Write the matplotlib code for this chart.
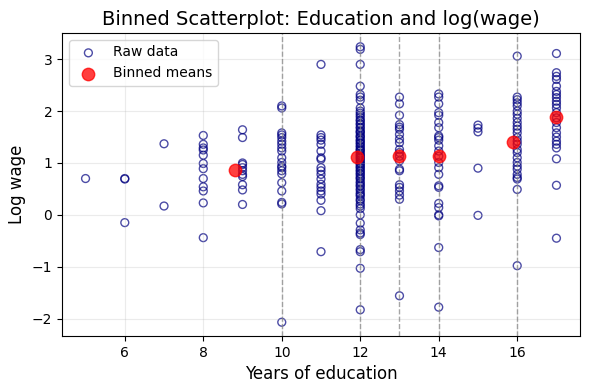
import matplotlib
matplotlib.use("Agg")
import matplotlib.pyplot as plt

# Raw data: years of education -> log wage values
educ_levels = [5, 6, 7, 8, 9, 10, 11, 12, 13, 14, 15, 16, 17]
wage_5 = [0.70]
wage_6 = [0.69, 0.70, -0.15]
wage_7 = [1.37, 0.17]
wage_8 = [1.53, 1.36, 1.29, 1.25, 1.15, 0.99, 0.89, 0.70, 0.54, 0.46, 0.23, -0.44]
wage_9 = [1.64, 1.49, 1.00, 0.97, 0.91, 0.85, 0.78, 0.74, 0.58, 0.48, 0.20]
wage_10 = [2.10, 2.06, 1.58, 1.54, 1.49, 1.42, 1.36, 1.29, 1.23, 1.10, 1.01, 0.94,
           0.91, 0.85, 0.79, 0.62, 0.46, 0.24, 0.21, -2.07]
wage_11 = [2.90, 1.54, 1.49, 1.44, 1.36, 1.23, 1.10, 1.07, 0.91, 0.85, 0.78, 0.69,
           0.59, 0.53, 0.46, 0.40, 0.28, 0.08, -0.71]
wage_12 = [3.24, 3.19, 2.90, 2.48, 2.32, 2.27, 2.21, 2.06, 2.00,
           1.96, 1.92, 1.88, 1.83, 1.81, 1.76, 1.74, 1.69, 1.67, 1.62, 1.60, 1.58,
           1.53, 1.51, 1.49, 1.44, 1.43, 1.39, 1.37, 1.33, 1.31, 1.27, 1.25, 1.23,
           1.19, 1.16, 1.14, 1.11, 1.09, 1.06, 1.03, 1.00, 0.98, 0.95, 0.92, 0.90,
           0.86, 0.84, 0.80, 0.78, 0.74, 0.71, 0.69, 0.64, 0.61, 0.57, 0.55, 0.50,
           0.47, 0.42, 0.39, 0.36, 0.30, 0.27, 0.21, 0.17, 0.12,
           0.00, -0.16, -0.29, -0.35, -0.38, -0.67, -0.71, -1.03, -1.83]
wage_13 = [2.27, 2.14, 1.92, 1.74, 1.69, 1.65, 1.55, 1.46, 1.39, 1.26, 1.20, 1.13,
           1.04, 0.88, 0.85, 0.58, 0.53, 0.46, 0.38, 0.30, -1.56]
wage_14 = [2.33, 2.27, 2.14, 1.97, 1.92, 1.78, 1.68, 1.52, 1.49, 1.44, 1.33, 1.23,
           1.13, 1.01, 0.91, 0.78, 0.56, 0.53, 0.22, 0.14, 0.00, -0.02, -0.63, -1.78]
wage_15 = [1.73, 1.67, 1.60, 0.90, -0.01]
wage_16 = [3.06, 2.27, 2.22, 2.16, 2.10, 2.00, 1.94, 1.86, 1.78, 1.71, 1.65, 1.58,
           1.49, 1.42, 1.36, 1.26, 1.20, 1.10, 1.01, 0.94, 0.88, 0.78, 0.72, 0.69,
           0.49, -0.98]
wage_17 = [3.11, 2.74, 2.67, 2.61, 2.48, 2.38, 2.32, 2.26, 2.19, 2.13, 2.06, 1.97,
           1.87, 1.78, 1.68, 1.58, 1.50, 1.42, 1.36, 1.29, 1.08, 0.57, -0.45]

# Binned means
bin_x = [8.80, 11.92, 13.0, 14.0, 15.89, 17.0]
bin_y = [0.87, 1.12, 1.14, 1.14, 1.41, 1.89]

# Bin edges shown as vertical dashed lines
bin_edges = [10, 12, 13, 14, 16]

groups = [wage_5, wage_6, wage_7, wage_8, wage_9, wage_10, wage_11, wage_12,
          wage_13, wage_14, wage_15, wage_16, wage_17]
xs, ys = [], []
for e, g in zip(educ_levels, groups):
    xs.extend([e] * len(g))
    ys.extend(g)

fig, ax = plt.subplots(figsize=(5.9, 3.9), dpi=100)
ax.scatter(xs, ys, facecolors="none", edgecolors="navy", alpha=0.7, s=32,
           linewidths=1.0, label="Raw data")
ax.scatter(bin_x, bin_y, color="red", alpha=0.75, s=80, label="Binned means", zorder=3)
for b in bin_edges:
    ax.axvline(b, color="gray", linestyle="--", linewidth=1, alpha=0.7)
ax.set_title("Binned Scatterplot: Education and log(wage)", fontsize=14)
ax.set_xlabel("Years of education", fontsize=12)
ax.set_ylabel("Log wage", fontsize=12)
ax.grid(True, alpha=0.25)
ax.legend(loc="upper left")
fig.subplots_adjust(left=62/590, right=580/590, top=1-33/390, bottom=1-336/390)
fig.savefig("out.png", dpi=100)
